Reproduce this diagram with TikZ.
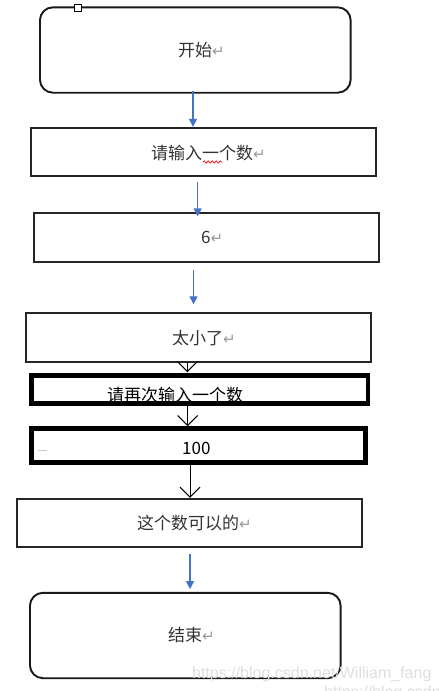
\documentclass[tikz,border=0pt]{standalone}
\usepackage{fontspec}
\newfontfamily\cjk{Noto Sans CJK SC}
\newfontfamily\symfont{DejaVu Sans}
\newfontfamily\markfont{Liberation Sans}
\usetikzlibrary{arrows.meta,decorations.pathmorphing}
\definecolor{flowblue}{RGB}{68,114,196}
\newcommand{\ret}{{\symfont\fontsize{15}{15}\selectfont\color{black!40}↵}}

\begin{document}
\begin{tikzpicture}[x=1pt,y=-1pt,
    terminal/.style={
    % The shape:
    rectangle,rounded corners=13pt,
    minimum width=310.7pt,minimum height=85.4pt,
    % The rest
    line width=1.9pt,draw=black!90,inner sep=0pt},
    process/.style={
    rectangle,minimum width=345pt,minimum height=48.6pt,
    line width=1.8pt,draw=black!85,inner sep=0pt},
    boldbox/.style={
    rectangle,line width=4.6pt,draw=black,inner sep=0pt},
    txt/.style={anchor=west,inner sep=0pt,text height=14pt,text depth=1pt,
    font=\cjk\fontsize{17}{20}\selectfont,text=black!80},
    flow/.style={draw=flowblue,line width=1.3pt,-{Triangle[length=8pt,width=8pt]}},
    sketch/.style={draw=black,line width=1pt,-{Straight Barb[length=10pt,width=20pt]}}]
    \useasboundingbox (0,0) rectangle (439,691);
    % boxes
    \node (start) [terminal] at (195.3,50) {};
    \node (ask) [process] at (203.2,152) {};
    \node (six) [process] at (206.2,237.3) {};
    \node (small) [process] at (198.2,337.5) {};
    \node (again-t) [txt,text=black] at (107,395) {请再次输入一个数};
    \node (again) [boldbox,minimum width=336.6pt,minimum height=28pt] at (199.5,389.5) {};
    \node (hundred) [boldbox,minimum width=333.7pt,minimum height=34pt] at (198.4,445.5) {};
    \node (ok) [process] at (189.2,523) {};
    \node (stop) [terminal] at (185.3,635.5) {};
    % texts
    \node (start-t) [txt] at (178,50) {开始\ret};
    \node (ask-t) [txt] at (151,153) {请输入一个数\ret};
    \node (six-t) [txt] at (201,237) {6\ret};
    \node (small-t) [txt] at (172,338) {太小了\ret};
    \node (hundred-t) [txt,text=black] at (182,448) {100};
    \node (ok-t) [txt] at (137,523) {这个数可以的\ret};
    \node (stop-t) [txt] at (168,635) {结束\ret};
    % handle, spell mark, stray dash
    \draw[fill=white,line width=0.8pt] (74.3,4.2) rectangle (81.7,11.5);
    \draw[red,line width=0.7pt,decorate,decoration={snake,amplitude=1.1pt,segment length=4pt}] (203,162) -- (222,162);
    \draw[black!20,line width=0.8pt] (38,450) -- (47,450);
    % arrows
    \draw[flow] ([xshift=-2.3pt,yshift=2.7pt]start.south) coordinate (a1) -- (a1 |- ask.north);
    \draw[flow,shorten >=-4.3pt] ([xshift=-5.6pt,yshift=-5pt]ask.south) coordinate (a2) -- (a2 |- six.north);
    \draw[flow,shorten >=8pt] ([xshift=-12.7pt,yshift=-7.3pt]six.south) coordinate (a3) -- (a3 |- small.north);
    \draw[sketch,shorten >=1pt] ([xshift=-10.9pt]small.south) coordinate (b1) -- (b1 |- again.north);
    \draw[sketch] ([xshift=-11.8pt]again.south) coordinate (b2) -- (b2 |- hundred.north);
    \draw[sketch] ([xshift=-8.4pt]hundred.south) coordinate (b3) -- (b3 |- ok.north);
    \draw[flow,shorten >=2.7pt] ([xshift=0.8pt,yshift=-5.7pt]ok.south) coordinate (a4) -- (a4 |- stop.north);
    % watermark
    \node (mark) [anchor=base west,inner sep=0pt,font=\markfont\fontsize{16}{19}\selectfont,text=black!13] at (192,678) {https://blog.csdn.net/William\_fang};
    \node (mark2) [anchor=base west,inner sep=0pt,font=\markfont\fontsize{16}{19}\selectfont,text=black!13] at (324,697) {https://blog.csdn};
\end{tikzpicture}
\end{document}
